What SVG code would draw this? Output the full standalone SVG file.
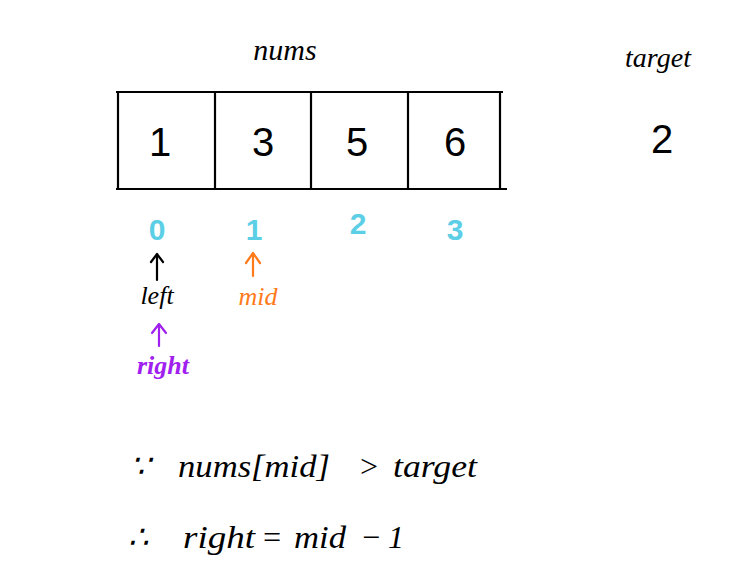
<svg xmlns="http://www.w3.org/2000/svg" width="752" height="585" viewBox="0 0 752 585">
<style>
.t{font-family:"Liberation Sans",Arial,sans-serif;fill:#000}
.hw{font-family:"Liberation Serif","Times New Roman",serif;font-style:italic}
.cell{fill:none;stroke:#000;stroke-width:2.2}
.num{font-size:40px;text-anchor:middle}
.idx{font-family:"Liberation Sans",Arial,sans-serif;font-size:30px;text-anchor:middle;fill:#5CCFE6;font-weight:bold}
.arr{fill:none;stroke-width:2.2;stroke-linecap:round;stroke-linejoin:round}
</style>
<rect width="752" height="585" fill="#fff"/>
<g id="nums-label"><text class="t hw" x="285" y="60" font-size="30" text-anchor="middle">nums</text></g>
<g id="target-label"><text class="t hw" x="658" y="67" font-size="28" text-anchor="middle">target</text>
<text class="t" x="662" y="153" font-size="40" text-anchor="middle">2</text></g>
<g id="array">
<line class="cell" x1="116" y1="92" x2="503" y2="92"/>
<line class="cell" x1="116" y1="189" x2="507" y2="189"/>
<line class="cell" x1="118" y1="91" x2="118" y2="190"/>
<line class="cell" x1="215" y1="92" x2="215" y2="189"/>
<line class="cell" x1="311" y1="92" x2="311" y2="189"/>
<line class="cell" x1="408" y1="92" x2="408" y2="189"/>
<line class="cell" x1="500" y1="92" x2="500" y2="189"/>
<text class="t num" x="160" y="156">1</text>
<text class="t num" x="263" y="156">3</text>
<text class="t num" x="357" y="156">5</text>
<text class="t num" x="455" y="156">6</text>
</g>
<g id="indices">
<text class="idx" x="157" y="240">0</text>
<text class="idx" x="254" y="240">1</text>
<text class="idx" x="358" y="234">2</text>
<text class="idx" x="455" y="240">3</text>
</g>
<g id="connectors">
<path class="arr" stroke="#000" d="M157 280 V254 M151 262 L157 254 L163 262"/>
<path class="arr" stroke="#FF7A1A" d="M253 276 V253 M246 263 L253 253 L260 263"/>
<path class="arr" stroke="#A020F0" d="M159 346 V324 M152 333 L159 324 L166 333"/>
</g>
<g id="left-label"><text class="t hw" x="157" y="304" font-size="26" text-anchor="middle">left</text></g>
<g id="mid-label"><text class="hw" x="258" y="305" font-size="26" text-anchor="middle" fill="#FF7A1A" font-family="Liberation Serif,serif">mid</text></g>
<g id="right-label"><text class="hw" x="163" y="374" font-size="26" text-anchor="middle" fill="#A020F0" font-weight="bold" font-family="Liberation Serif,serif">right</text></g>
<g id="cond"><text class="t hw" y="477" font-size="32"><tspan x="130">∵</tspan><tspan x="178" textLength="152" lengthAdjust="spacingAndGlyphs">nums[mid]</tspan><tspan x="358">&gt;</tspan><tspan x="393" textLength="84" lengthAdjust="spacingAndGlyphs">target</tspan></text></g>
<g id="result"><text class="t hw" y="548" font-size="32"><tspan x="128">∴</tspan><tspan x="183" textLength="72" lengthAdjust="spacingAndGlyphs">right</tspan><tspan x="261">=</tspan><tspan x="294" textLength="52" lengthAdjust="spacingAndGlyphs">mid</tspan><tspan x="360">−</tspan><tspan x="388">1</tspan></text></g>
</svg>
